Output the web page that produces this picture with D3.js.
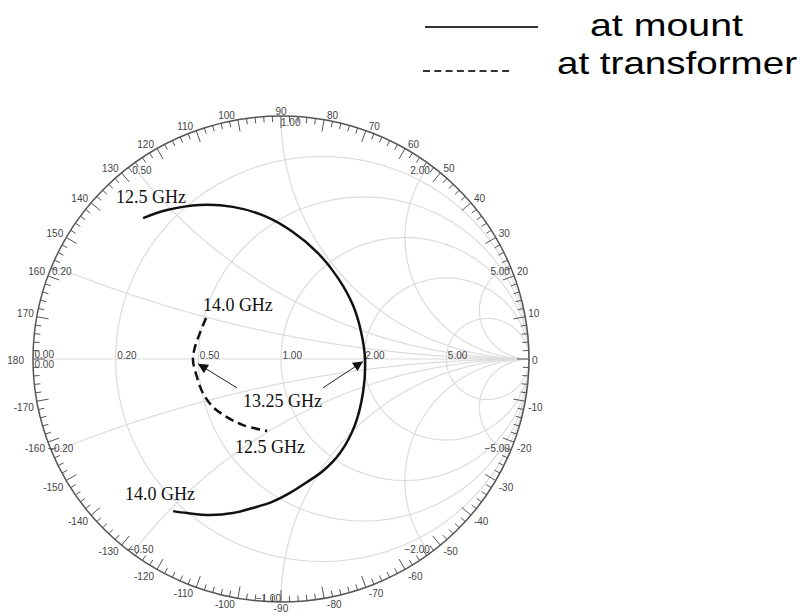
<!DOCTYPE html>
<html>
<head>
<meta charset="utf-8">
<title>Smith chart - mount vs transformer</title>
<script src="https://d3js.org/d3.v7.min.js"></script>
<style>
body { margin: 0; background: #fff; }
.grid { fill: none; stroke: #dcdcdc; stroke-width: 1.2px; }
.rim { fill: none; stroke: #555; stroke-width: 1.5px; }
.tick { stroke: #555; stroke-width: 1px; }
.scale-label { font-family: "Liberation Sans", Arial, sans-serif; font-size: 10px; fill: #444; }
.note { font-family: "Liberation Serif", "Times New Roman", serif; font-size: 18px; fill: #111; }
.trace { fill: none; stroke: #111; stroke-width: 2.5px; }
.legend-text { font-family: "Liberation Sans", Arial, sans-serif; font-size: 32px; fill: #000; }
</style>
</head>
<body>
<svg id="chart" width="806" height="616"></svg>
<script>
// grid values of the Smith chart
var resistanceValues = [0.2, 0.5, 1, 2, 5];
var reactanceValues = [0.2, 0.5, 1, 2, 5];
var angleLabels = d3.range(-170, 181, 10);   // degrees, outer scale
var angleTicks = d3.range(-178, 181, 2);

var mountRe = [-0.556, -0.460, -0.327, -0.194, -0.065, 0.048, 0.149, 0.230, 0.290, 0.323, 0.339, 0.331,
               0.298, 0.238, 0.169, 0.105, 0.036, -0.036, -0.113, -0.194, -0.286, -0.379, -0.435];
var mountIm = [0.580, 0.613, 0.634, 0.626, 0.588, 0.523, 0.436, 0.333, 0.222, 0.111, -0.004, -0.136,
               -0.272, -0.387, -0.461, -0.506, -0.551, -0.588, -0.613, -0.634, -0.642, -0.634, -0.626];

var transformerRe = [-0.302, -0.327, -0.347, -0.355, -0.339, -0.315, -0.274, -0.218, -0.153, -0.056];
var transformerIm = [0.169, 0.107, 0.049, -0.004, -0.074, -0.140, -0.198, -0.239, -0.272, -0.296];

var legendNames = ["at mount", "at transformer"];
var noteTexts = ["12.5 GHz", "14.0 GHz", "13.25 GHz", "12.5 GHz", "14.0 GHz"];

var svg = d3.select("#chart");

// Γ plane -> pixels
var x = d3.scaleLinear().domain([-1, 1]).range([33, 529]);
var y = d3.scaleLinear().domain([-1, 1]).range([602, 116]);
var cx = x(0), cy = y(0);

var line = d3.line()
    .x(function(d) { return x(d[0]); })
    .y(function(d) { return y(d[1]); });

// normalised impedance -> reflection coefficient
function gamma(r, xx) {
  var den = (r + 1) * (r + 1) + xx * xx;
  return [(r * r + xx * xx - 1) / den, 2 * xx / den];
}

var fmt = d3.format(".2f");

var grid = svg.append("g");

// real axis
grid.append("path").attr("class", "grid").attr("d", line([[-1, 0], [1, 0]]));

// constant resistance circles
resistanceValues.forEach(function(r) {
  var c = r / (1 + r), rad = 1 / (1 + r);
  var pts = d3.range(0, 361, 2).map(function(t) {
    var a = t * Math.PI / 180;
    return [c + rad * Math.cos(a), rad * Math.sin(a)];
  });
  grid.append("path").attr("class", "grid").attr("d", line(pts));
});

// constant reactance arcs
reactanceValues.forEach(function(v) {
  [v, -v].forEach(function(xx) {
    var pts = d3.range(0, 0.999, 0.002).map(function(t) { return gamma(t / (1 - t), xx); });
    pts.push([1, 0]);
    grid.append("path").attr("class", "grid").attr("d", line(pts));
  });
});

// outer rim
grid.append("ellipse").attr("class", "rim")
    .attr("cx", cx).attr("cy", cy)
    .attr("rx", x(1) - cx).attr("ry", cy - y(1));

function rimPoint(deg) {
  var a = deg * Math.PI / 180;
  return [x(Math.cos(a)), y(Math.sin(a)), Math.cos(a), Math.sin(a)];
}

// angle ticks, pointing inward
angleTicks.forEach(function(deg) {
  var p = rimPoint(deg);
  var len = deg % 10 === 0 ? 12 : 6;
  grid.append("line").attr("class", "tick")
      .attr("x1", p[0]).attr("y1", p[1])
      .attr("x2", p[0] - len * p[2]).attr("y2", p[1] + len * p[3]);
});

// angle labels outside the rim
angleLabels.forEach(function(deg) {
  var p = rimPoint(deg);
  var s = p[3];
  var anchor = Math.abs(p[2]) < 0.1 ? "middle" : (p[2] > 0 ? "start" : "end");
  var gap = deg === 180 ? 9 : 3;
  var dx = anchor === "middle" ? 0 : (anchor === "start" ? gap : -gap);
  var dy = -5.5 * Math.sign(s) * Math.min(1, Math.abs(s) * 5) + 2;
  grid.append("text").attr("class", "scale-label")
      .attr("x", p[0] + dx).attr("y", p[1] + dy)
      .attr("text-anchor", anchor)
      .attr("dominant-baseline", "middle")
      .text(deg);
});

// resistance labels along the real axis
[0].concat(resistanceValues).forEach(function(r) {
  grid.append("text").attr("class", "scale-label")
      .attr("x", x(gamma(r, 0)[0]) + 1.5).attr("y", cy - (r === 0 ? 1.5 : 0))
      .text(fmt(r));
});
grid.append("text").attr("class", "scale-label")
    .attr("x", x(-1) + 1.5).attr("y", cy + 2)
    .attr("dominant-baseline", "hanging")
    .text(fmt(0));

// reactance labels just inside the rim
reactanceValues.forEach(function(v) {
  var up = gamma(0, v);
  grid.append("text").attr("class", "scale-label")
      .attr("x", x(up[0])).attr("y", y(up[1]) + 7)
      .attr("text-anchor", up[0] <= 1e-9 ? "start" : "end")
      .attr("dominant-baseline", "middle")
      .text(fmt(v));
  var dn = gamma(0, -v);
  var left = dn[0] < -1e-9;
  grid.append("text").attr("class", "scale-label")
      .attr("x", x(dn[0]) + (left ? -4 : 0)).attr("y", y(dn[1]) - 3)
      .attr("text-anchor", left ? "start" : "end")
      .attr("dominant-baseline", "middle")
      .text(fmt(-v));
});

// traces
var mountPts = d3.zip(mountRe, mountIm);
var transformerPts = d3.zip(transformerRe, transformerIm);
var smooth = line.curve(d3.curveCatmullRom.alpha(0.5));

svg.append("path").attr("class", "trace").attr("d", smooth(mountPts));
svg.append("path").attr("class", "trace")
    .attr("stroke-dasharray", "9,5")
    .attr("d", smooth(transformerPts));

// frequency notes (positions in Γ plane)
var notePos = [[-0.665, 0.642], [-0.315, 0.198], [-0.153, -0.198], [-0.185, -0.387], [-0.629, -0.580]];
noteTexts.forEach(function(t, i) {
  svg.append("text").attr("class", "note")
      .attr("x", x(notePos[i][0])).attr("y", y(notePos[i][1]))
      .text(t);
});

svg.append("defs").append("marker")
    .attr("id", "arrow")
    .attr("viewBox", "0 0 10 10")
    .attr("refX", 10).attr("refY", 5)
    .attr("markerUnits", "userSpaceOnUse")
    .attr("markerWidth", 14).attr("markerHeight", 10)
    .attr("orient", "auto")
  .append("path")
    .attr("d", "M0,0L10,5L0,10Z")
    .attr("fill", "#111");

// arrows from the 13.25 GHz note to both traces
var arrows = [
  [[-0.177, -0.119], [-0.335, -0.020]],
  [[0.169, -0.119], [0.331, -0.010]]
];
arrows.forEach(function(a) {
  svg.append("line")
      .attr("x1", x(a[0][0])).attr("y1", y(a[0][1]))
      .attr("x2", x(a[1][0])).attr("y2", y(a[1][1]))
      .attr("stroke", "#222").attr("stroke-width", 1)
      .attr("marker-end", "url(#arrow)");
});

// legend
var legend = svg.append("g");
legend.append("line").attr("x1", 425).attr("x2", 538).attr("y1", 27).attr("y2", 27)
    .attr("stroke", "#333").attr("stroke-width", 2);
legend.append("line").attr("x1", 423).attr("x2", 513).attr("y1", 71).attr("y2", 71)
    .attr("stroke", "#333").attr("stroke-width", 2).attr("stroke-dasharray", "7,4.3");
legend.append("text").attr("class", "legend-text")
    .attr("x", 590).attr("y", 36)
    .attr("textLength", 153).attr("lengthAdjust", "spacingAndGlyphs")
    .text(legendNames[0]);
legend.append("text").attr("class", "legend-text")
    .attr("x", 557).attr("y", 74)
    .attr("textLength", 240).attr("lengthAdjust", "spacingAndGlyphs")
    .text(legendNames[1]);
</script>
</body>
</html>
